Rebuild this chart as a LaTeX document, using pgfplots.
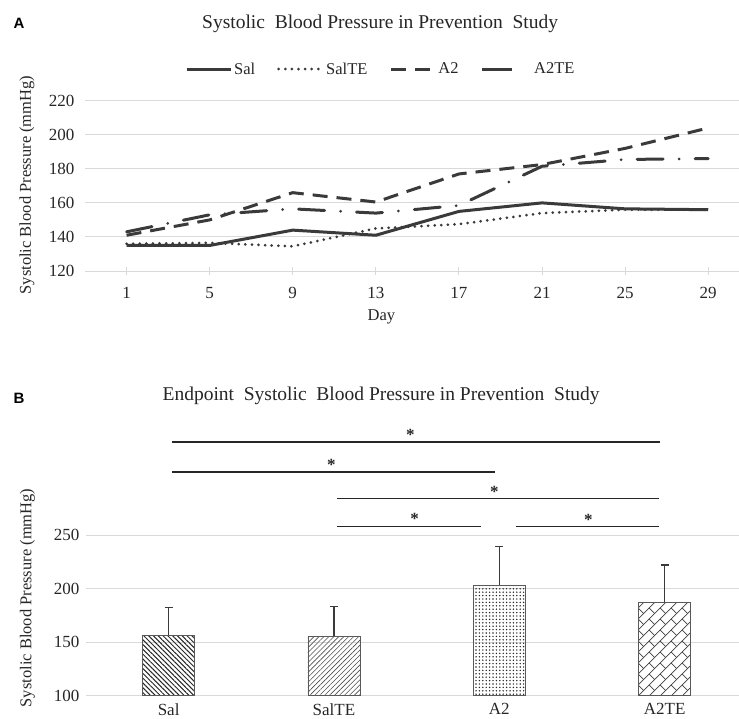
\documentclass[border=0pt]{standalone}
\usepackage{fontspec}
\setmainfont{Liberation Serif}
\newfontfamily\panelfont{Liberation Sans}
\usepackage{pgfplots}
\pgfplotsset{compat=1.18}
\usetikzlibrary{patterns,patterns.meta}

\definecolor{ln}{HTML}{3A3A3A}
\definecolor{gridc}{HTML}{D9D9D9}
\definecolor{barline}{HTML}{595959}
\definecolor{sigc}{HTML}{262626}

\tikzdeclarepattern{
  name=shingle, type=uncolored,
  bottom left={(-.5pt,-.5pt)}, top right={(11.5pt,11.5pt)},
  tile size={(11pt,11pt)},
  code={
    \draw[line width=0.7pt] (0pt,0pt) -- (11pt,11pt);
    \draw[line width=0.7pt] (0pt,11pt) -- (5.5pt,5.5pt);
  }
}

\pgfplotsset{
  longlegend/.style={legend image code/.code={\draw[##1] (0pt,0pt) -- (44pt,0pt);}},
  shortlegend/.style={legend image code/.code={\path[draw=none,fill=none] (0pt,0pt) -- (50pt,0pt);\draw[##1, solid, line cap=butt] (0pt,0pt) -- (30pt,0pt);}},
}

\newcommand{\tickfont}{\fontsize{17}{18}\selectfont}
\newcommand{\labfont}{\fontsize{16.5}{18}\selectfont}
\newcommand{\titfont}{\fontsize{19.5}{21}\selectfont}

\begin{document}
\begin{tikzpicture}
\path[use as bounding box] (0pt,0pt) rectangle (739pt,-718pt);
\node[font=\panelfont\bfseries\fontsize{15}{15}\selectfont] at (19pt,-23pt) {A};
\node[font=\panelfont\bfseries\fontsize{15}{15}\selectfont] at (19pt,-398pt) {B};

% ---------------- Panel A ----------------
\begin{axis}[
  at={(85pt,-271pt)}, anchor=south west,
  scale only axis, width=654.4pt, height=170.3pt,
  xmin=-1, xmax=30.5, ymin=120, ymax=220,
  xtick={1,5,9,13,17,21,25,29}, ytick={120,140,160,180,200,220},
  ymajorgrids, grid style={gridc, line width=0.9pt},
  axis x line*=bottom, axis y line*=left,
  x axis line style={gridc, line width=0.9pt, -},
  y axis line style={draw=none},
  xtick style={gridc, line width=0.9pt}, ytick style={draw=none},
  tick align=center, major tick length=8pt,
  /pgf/number format/assume math mode=true,
  tick label style={font=\tickfont, text=black!85},
  xticklabel style={yshift=-9pt},
  yticklabel style={xshift=-3pt},
  title={Systolic\ \ Blood Pressure in Prevention\ \ Study},
  title style={font=\titfont, text=black!85, at={(axis description cs:0.451,1.415)}, anchor=center},
  xlabel={Day},
  xlabel style={font=\labfont, text=black!85, at={(axis description cs:0.453,-0.27)}, anchor=center},
  ylabel={Systolic Blood Pressure (mmHg)},
  ylabel style={font=\labfont, text=black!85, at={(axis description cs:-0.0887,0.505)}, anchor=center, rotate=0},
  legend style={at={(axis description cs:0.452,1.186)}, anchor=center, draw=none, fill=none,
    font=\labfont, text=black!85, legend columns=4,
    /tikz/every even column/.append style={column sep=20pt}},
  longlegend,
]
\addplot[ln, line width=3pt] coordinates {(1,135)(5,135)(9,144)(13,141)(17,155)(21,160)(25,156.5)(29,156)};
\addlegendentry{Sal}
\addplot[ln, line width=3pt, line cap=round, dash pattern=on 0pt off 6.6pt] coordinates {(1,136)(5,136.5)(9,134.5)(13,145)(17,147.5)(21,154)(25,156)(29,156)};
\addlegendentry{SalTE}
\addplot[ln, line width=3pt, dash pattern=on 15pt off 9pt] coordinates {(1,141)(5,150)(9,166)(13,160.5)(17,177)(21,182.5)(25,192)(29,204)};
\addlegendentry{A2}
\addplot[ln, line width=3pt, line cap=round, dash pattern=on 26pt off 16pt on 0pt off 16pt, shortlegend] coordinates {(1,143)(5,153)(9,156.5)(13,154)(17,158.5)(21,181.5)(25,185.5)(29,186)};
\addlegendentry{A2TE}
\end{axis}

% ---------------- Panel B ----------------
\begin{axis}[
  at={(86pt,-695.7pt)}, anchor=south west,
  scale only axis, width=653pt, height=278.5pt,
  xmin=-0.5, xmax=3.45, ymin=100, ymax=360,
  xtick={0,1,2,3}, xticklabels={Sal,SalTE,A2,A2TE},
  ytick={100,150,200,250},
  ymajorgrids, grid style={gridc, line width=0.9pt},
  axis line style={draw=none}, major tick length=0pt,
  /pgf/number format/assume math mode=true,
  tick label style={font=\tickfont, text=black!85},
  xticklabel style={yshift=-4pt},
  yticklabel style={xshift=-3pt},
  title={Endpoint\ \ Systolic\ \ Blood Pressure in Prevention\ \ Study},
  title style={font=\titfont, text=black!85, at={(axis description cs:0.452,1.054)}, anchor=center},
  ylabel={Systolic Blood Pressure (mmHg)},
  ylabel style={font=\labfont, text=black!85, at={(axis description cs:-0.0896,0.351)}, anchor=center, rotate=0},
  error bars/error bar style={ln, line width=1.1pt},
  error bars/error mark options={rotate=90, mark size=4pt, ln, line width=1.1pt},
]
\addplot[ybar, bar width=52pt, bar shift=0pt, draw=barline, line width=0.9pt,
  pattern={Lines[angle=-45,distance=3.4pt,line width=1pt]}, pattern color=black!85,
  error bars/.cd, y dir=plus, y explicit]
  coordinates {(0,156.6) +- (0,25.9)};
\addplot[ybar, bar width=52pt, bar shift=0pt, draw=barline, line width=0.9pt,
  pattern={Lines[angle=45,distance=3.5pt,line width=0.6pt]}, pattern color=black!70,
  error bars/.cd, y dir=plus, y explicit]
  coordinates {(1,155.7) +- (0,28.0)};
\addplot[ybar, bar width=52pt, bar shift=0pt, draw=barline, line width=0.9pt,
  pattern={Dots[distance=3.4pt,radius=0.8pt]}, pattern color=black!85,
  error bars/.cd, y dir=plus, y explicit]
  coordinates {(2,203.3) +- (0,35.8)};
\addplot[ybar, bar width=52pt, bar shift=0pt, draw=barline, line width=0.9pt,
  pattern=shingle, pattern color=black!75,
  error bars/.cd, y dir=plus, y explicit]
  coordinates {(3,187.4) +- (0,34.6)};
% significance bars
\addplot[sigc, line width=1.2pt] coordinates {(0.02,336.8)(2.974,336.8)};
\addplot[sigc, line width=1.2pt] coordinates {(0.02,308.8)(1.974,308.8)};
\addplot[sigc, line width=1.2pt] coordinates {(1.018,283.8)(2.968,283.8)};
\addplot[sigc, line width=1.2pt] coordinates {(1.018,258)(1.89,258)};
\addplot[sigc, line width=1.2pt] coordinates {(2.1,258)(2.968,258)};
\node[font=\fontsize{17}{17}\selectfont\bfseries, text=sigc, yshift=-3pt] at (axis cs:1.462,346.7) {*};
\node[font=\fontsize{17}{17}\selectfont\bfseries, text=sigc, yshift=-3pt] at (axis cs:0.984,318.1) {*};
\node[font=\fontsize{17}{17}\selectfont\bfseries, text=sigc, yshift=-3pt] at (axis cs:1.97,293.2) {*};
\node[font=\fontsize{17}{17}\selectfont\bfseries, text=sigc, yshift=-3pt] at (axis cs:1.488,268) {*};
\node[font=\fontsize{17}{17}\selectfont\bfseries, text=sigc, yshift=-3pt] at (axis cs:2.539,267.3) {*};
\end{axis}
\end{tikzpicture}
\end{document}
